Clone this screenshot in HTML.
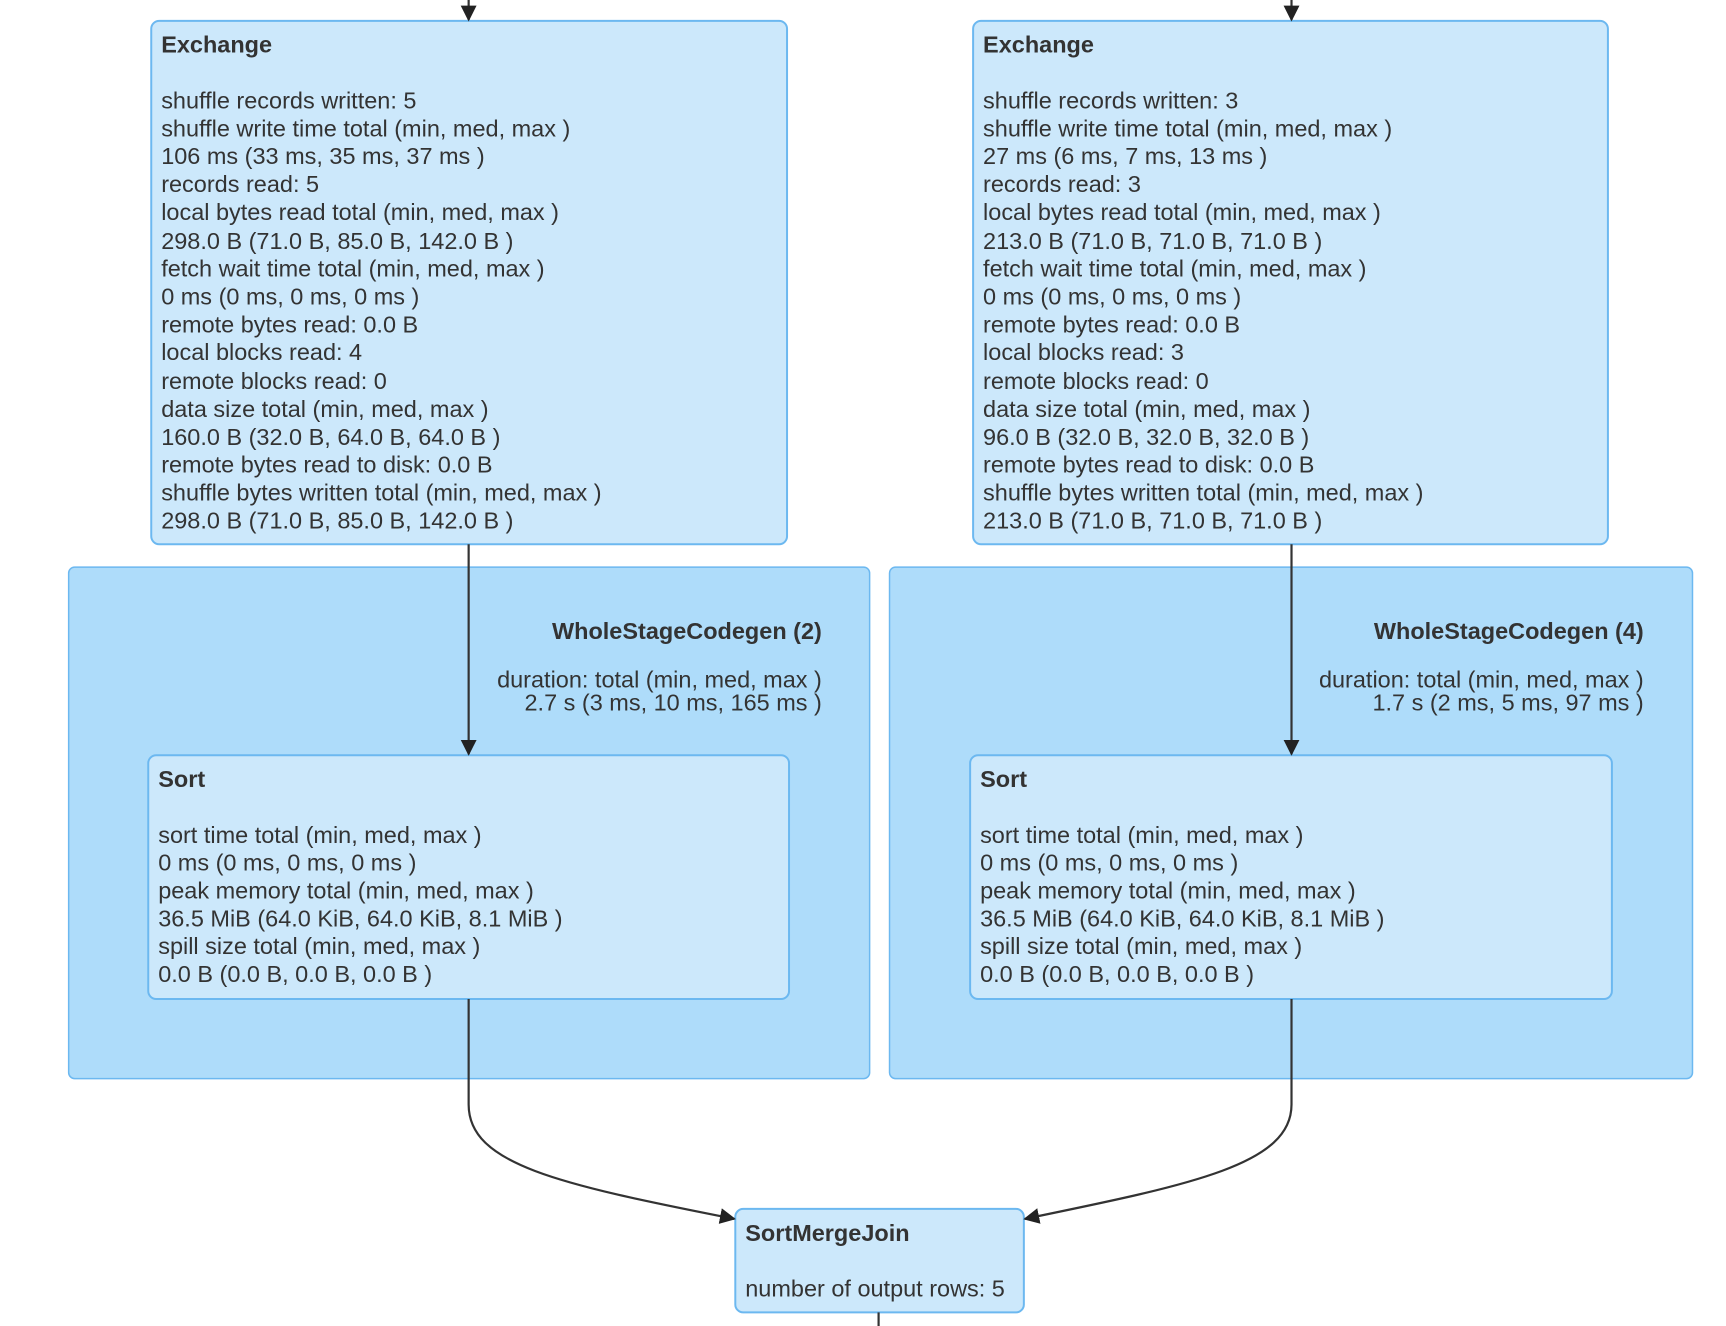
<!DOCTYPE html>
<html><head><meta charset="utf-8"><style>
html,body{margin:0;padding:0;background:#fff;}
svg{display:block;}
text{font-family:"Liberation Sans",Arial,sans-serif;font-size:23.6px;fill:#333;}
.b{font-weight:bold;}
</style></head><body>
<svg width="1726" height="1326" viewBox="0 0 1726 1326" xmlns="http://www.w3.org/2000/svg">
<defs>
<marker id="ah" viewBox="0 0 10 10" refX="9" refY="5" markerWidth="16" markerHeight="16" markerUnits="userSpaceOnUse" orient="auto">
<path d="M0,0 L10,5 L0,10 z" fill="#222"/>
</marker>
</defs>
<g transform="scale(0.995)">
<!-- clusters -->
<rect x="69" y="570" width="805" height="514" rx="6" fill="#aedcfa" stroke="#6cb8f0" stroke-width="1.5"/>
<rect x="894" y="570" width="807" height="514" rx="6" fill="#aedcfa" stroke="#6cb8f0" stroke-width="1.5"/>
<!-- exchange nodes -->
<rect x="152" y="21" width="639" height="526" rx="8" fill="#cce8fb" stroke="#6cb8f0" stroke-width="2"/>
<rect x="978" y="21" width="638" height="526" rx="8" fill="#cce8fb" stroke="#6cb8f0" stroke-width="2"/>
<!-- sort nodes -->
<rect x="149" y="759" width="644" height="245" rx="8" fill="#cce8fb" stroke="#6cb8f0" stroke-width="2"/>
<rect x="975" y="759" width="645" height="245" rx="8" fill="#cce8fb" stroke="#6cb8f0" stroke-width="2"/>
<!-- SMJ -->
<rect x="739" y="1215" width="290" height="104" rx="8" fill="#cce8fb" stroke="#6cb8f0" stroke-width="2"/>
<!-- edges -->
<g stroke="#333" stroke-width="2.2" fill="none">
<line x1="471" y1="0" x2="471" y2="20" marker-end="url(#ah)"/>
<line x1="1298" y1="0" x2="1298" y2="20" marker-end="url(#ah)"/>
<line x1="471" y1="547" x2="471" y2="758" marker-end="url(#ah)"/>
<line x1="1298" y1="547" x2="1298" y2="758" marker-end="url(#ah)"/>
<path d="M471 1004 L471 1110 C471 1170 560 1190 738 1225" marker-end="url(#ah)"/>
<path d="M1298 1004 L1298 1110 C1298 1170 1200 1190 1030 1225" marker-end="url(#ah)"/>
<line x1="883" y1="1319" x2="883" y2="1340"/>
</g>
<!-- Exchange L text -->
<g transform="translate(162,0)">
<text class="b" y="53">Exchange</text>
<text y="109">shuffle records written: 5</text>
<text y="137">shuffle write time total (min, med, max )</text>
<text y="165">106 ms (33 ms, 35 ms, 37 ms )</text>
<text y="193">records read: 5</text>
<text y="221">local bytes read total (min, med, max )</text>
<text y="250">298.0 B (71.0 B, 85.0 B, 142.0 B )</text>
<text y="278">fetch wait time total (min, med, max )</text>
<text y="306">0 ms (0 ms, 0 ms, 0 ms )</text>
<text y="334">remote bytes read: 0.0 B</text>
<text y="362">local blocks read: 4</text>
<text y="391">remote blocks read: 0</text>
<text y="419">data size total (min, med, max )</text>
<text y="447">160.0 B (32.0 B, 64.0 B, 64.0 B )</text>
<text y="475">remote bytes read to disk: 0.0 B</text>
<text y="503">shuffle bytes written total (min, med, max )</text>
<text y="531">298.0 B (71.0 B, 85.0 B, 142.0 B )</text>
</g>
<!-- Exchange R text -->
<g transform="translate(988,0)">
<text class="b" y="53">Exchange</text>
<text y="109">shuffle records written: 3</text>
<text y="137">shuffle write time total (min, med, max )</text>
<text y="165">27 ms (6 ms, 7 ms, 13 ms )</text>
<text y="193">records read: 3</text>
<text y="221">local bytes read total (min, med, max )</text>
<text y="250">213.0 B (71.0 B, 71.0 B, 71.0 B )</text>
<text y="278">fetch wait time total (min, med, max )</text>
<text y="306">0 ms (0 ms, 0 ms, 0 ms )</text>
<text y="334">remote bytes read: 0.0 B</text>
<text y="362">local blocks read: 3</text>
<text y="391">remote blocks read: 0</text>
<text y="419">data size total (min, med, max )</text>
<text y="447">96.0 B (32.0 B, 32.0 B, 32.0 B )</text>
<text y="475">remote bytes read to disk: 0.0 B</text>
<text y="503">shuffle bytes written total (min, med, max )</text>
<text y="531">213.0 B (71.0 B, 71.0 B, 71.0 B )</text>
</g>
<!-- cluster labels -->
<g text-anchor="end">
<text class="b" x="826" y="642">WholeStageCodegen (2)</text>
<text x="826" y="691">duration: total (min, med, max )</text>
<text x="826" y="714">2.7 s (3 ms, 10 ms, 165 ms )</text>
<text class="b" x="1652" y="642">WholeStageCodegen (4)</text>
<text x="1652" y="691">duration: total (min, med, max )</text>
<text x="1652" y="714">1.7 s (2 ms, 5 ms, 97 ms )</text>
</g>
<!-- Sort texts -->
<g transform="translate(159,0)">
<text class="b" y="791">Sort</text>
<text y="847">sort time total (min, med, max )</text>
<text y="875">0 ms (0 ms, 0 ms, 0 ms )</text>
<text y="903">peak memory total (min, med, max )</text>
<text y="931">36.5 MiB (64.0 KiB, 64.0 KiB, 8.1 MiB )</text>
<text y="959">spill size total (min, med, max )</text>
<text y="987">0.0 B (0.0 B, 0.0 B, 0.0 B )</text>
</g>
<g transform="translate(985,0)">
<text class="b" y="791">Sort</text>
<text y="847">sort time total (min, med, max )</text>
<text y="875">0 ms (0 ms, 0 ms, 0 ms )</text>
<text y="903">peak memory total (min, med, max )</text>
<text y="931">36.5 MiB (64.0 KiB, 64.0 KiB, 8.1 MiB )</text>
<text y="959">spill size total (min, med, max )</text>
<text y="987">0.0 B (0.0 B, 0.0 B, 0.0 B )</text>
</g>
<g transform="translate(749,0)">
<text class="b" y="1247">SortMergeJoin</text>
<text y="1303">number of output rows: 5</text>
</g>
</g>
</svg>
</body></html>
